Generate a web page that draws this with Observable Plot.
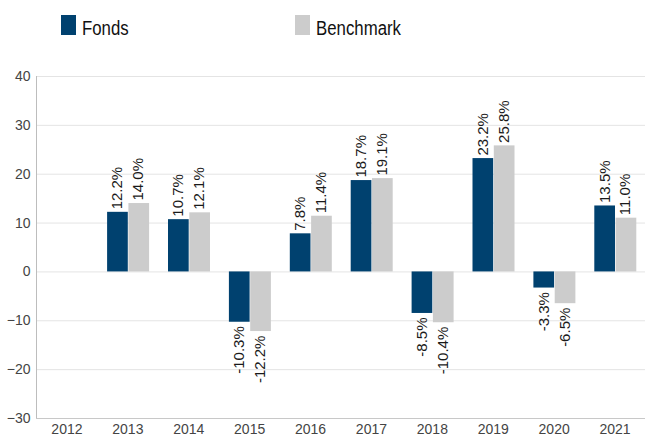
<!DOCTYPE html>
<html>
<head>
<meta charset="utf-8">
<script src="https://cdn.jsdelivr.net/npm/d3@7"></script>
<script src="https://cdn.jsdelivr.net/npm/@observablehq/plot@0.6"></script>
<style>
  body { margin: 0; background: #fff; font-family: "Liberation Sans", Arial, sans-serif; }
  #wrap { position: relative; width: 647px; }
  #legend { position: relative; height: 50px; }
  .sw { position: absolute; top: 15px; width: 15px; height: 20px; }
  .lt { position: absolute; top: 14px; font-family: "Liberation Sans", Arial, sans-serif; font-size: 20px; color: #111; line-height: 28px; transform: scaleX(0.84); transform-origin: left center; white-space: nowrap; }
</style>
</head>
<body>
<div id="wrap">
  <div id="legend"></div>
  <div id="chart"></div>
</div>
<script>
const years = ["2012","2013","2014","2015","2016","2017","2018","2019","2020","2021"];
const seriesNames = ["Fonds", "Benchmark"];
const fonds = [null, 12.2, 10.7, -10.3, 7.8, 18.7, -8.5, 23.2, -3.3, 13.5];
const benchmark = [null, 14.0, 12.1, -12.2, 11.4, 19.1, -10.4, 25.8, -6.5, 11.0];
const yTicks = [-30, -20, -10, 0, 10, 20, 30, 40];
const colors = ["#00416f", "#cccccc"];

const fondsData = [], benchData = [];
years.forEach((y, i) => {
  if (fonds[i] != null) fondsData.push({year: y, series: "Fonds", value: fonds[i]});
  if (benchmark[i] != null) benchData.push({year: y, series: "Benchmark", value: benchmark[i]});
});

// legend
const legend = document.getElementById("legend");
const legendX = [[61, 82], [295, 316]];
seriesNames.forEach((s, i) => {
  const sw = document.createElement("div");
  sw.className = "sw"; sw.style.left = legendX[i][0] + "px"; sw.style.background = colors[i];
  legend.appendChild(sw);
  const t = document.createElement("div");
  t.className = "lt"; t.style.left = legendX[i][1] + "px"; t.textContent = s;
  legend.appendChild(t);
});

const fmt = v => v.toFixed(1) + "%";
const labelStyle = { fontSize: 15, fill: "#1a1a1a", rotate: -90 };

function labels(arr, dx) {
  return [
    Plot.text(arr.filter(d => d.value >= 0), {
      x: "year", y: "value", text: d => fmt(d.value), textAnchor: "start", dx, dy: -3, ...labelStyle
    }),
    Plot.text(arr.filter(d => d.value < 0), {
      x: "year", y: "value", text: d => fmt(d.value), textAnchor: "end", dx, dy: 4, ...labelStyle
    })
  ];
}

const chart = Plot.plot({
  width: 647,
  height: 388,
  marginTop: 26,
  marginBottom: 20,
  marginLeft: 36,
  marginRight: 2,
  style: { fontFamily: "'Liberation Sans', Arial, sans-serif", fontSize: "14px", color: "#444", background: "#fff" },
  x: { domain: years, padding: 0, round: false, label: null },
  y: { domain: [-30, 40], label: null },
  marks: [
    Plot.gridY(yTicks, { stroke: "#e4e4e4", strokeOpacity: 1, strokeWidth: 1 }),
    Plot.barY(fondsData, { x: "year", y: "value", fill: colors[0], insetLeft: 10.2, insetRight: 30 }),
    Plot.barY(benchData, { x: "year", y: "value", fill: colors[1], insetLeft: 31.5, insetRight: 8.7 }),
    ...labels(fondsData, -10.2),
    ...labels(benchData, 10.6),
    Plot.axisY({ ticks: yTicks, tickSize: 0, tickPadding: 6, label: null }),
    Plot.axisX({ tickSize: 0, tickPadding: 6, label: null })
  ]
});

document.getElementById("chart").appendChild(chart);
const svg = d3.select(chart);
svg.append("line").attr("x1", 36.5).attr("x2", 36.5).attr("y1", 26).attr("y2", 368).attr("stroke", "#bdbdbd");
svg.append("line").attr("x1", 36).attr("x2", 645).attr("y1", 368.5).attr("y2", 368.5).attr("stroke", "#c8c8c8");
</script>
</body>
</html>
